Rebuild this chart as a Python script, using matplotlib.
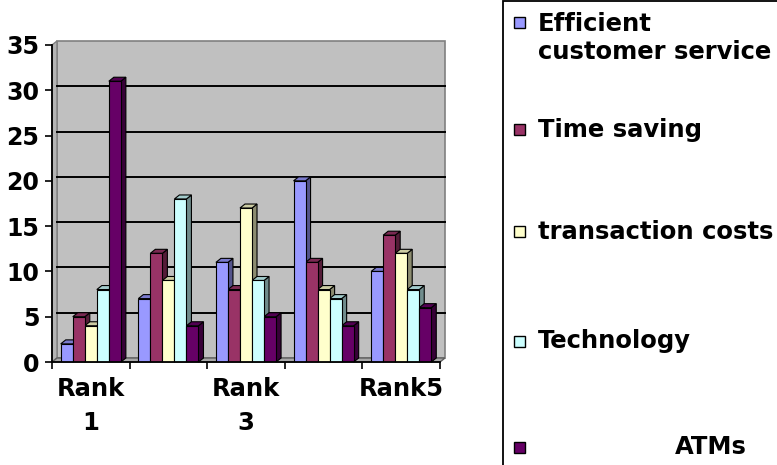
import numpy as np
import matplotlib
matplotlib.use("Agg")
import matplotlib.pyplot as plt
from matplotlib.patches import Polygon, Rectangle
from matplotlib.colors import to_rgb

categories = ["Rank 1", "Rank 2", "Rank 3", "Rank 4", "Rank5"]
series = ["Efficient\ncustomer service", "Time saving", "transaction costs",
          "Technology", "ATMs"]
efficient_service = [2, 7, 11, 20, 10]
time_saving = [5, 12, 8, 11, 14]
transaction_costs = [4, 9, 17, 8, 12]
technology = [8, 18, 9, 7, 8]
atms = [31, 4, 5, 4, 6]
values = [efficient_service, time_saving, transaction_costs, technology, atms]
colors = ["#9999FF", "#993366", "#FFFFCC", "#CCFFFF", "#660066"]
y_ticks = [0, 5, 10, 15, 20, 25, 30, 35]

W, H, DPI = 777, 465, 100
fig = plt.figure(figsize=(W / DPI, H / DPI), dpi=DPI)
fig.patch.set_facecolor("white")

ax_l, ax_b, ax_w, ax_h = 52, 103, 388, 317
ax = fig.add_axes([ax_l / W, ax_b / H, ax_w / W, ax_h / H])
ax.patch.set_visible(False)

n_cat = len(categories)
xmin, xmax = -0.5, n_cat - 0.5
ymin, ymax = 0, 35
ax.set_xlim(xmin, xmax)
ax.set_ylim(ymin, ymax)

# depth of the pseudo-3D box, in pixels, converted to data units
dpx, dpy = 5, 4
ddx = dpx / ax_w * (xmax - xmin)
ddy = dpy / ax_h * (ymax - ymin)

# back wall
ax.add_patch(Polygon([(xmin + ddx, ymin + ddy), (xmax + ddx, ymin + ddy),
                      (xmax + ddx, ymax + ddy), (xmin + ddx, ymax + ddy)],
                     closed=True, facecolor="#C0C0C0", edgecolor="#808080",
                     lw=1.2, zorder=0, clip_on=False))
# left wall
ax.add_patch(Polygon([(xmin, ymin), (xmin + ddx, ymin + ddy),
                      (xmin + ddx, ymax + ddy), (xmin, ymax)],
                     closed=True, facecolor="#B4B4B4", edgecolor="#808080",
                     lw=1.0, zorder=0.5, clip_on=False))
# floor
ax.add_patch(Polygon([(xmin, ymin), (xmax, ymin), (xmax + ddx, ymin + ddy),
                      (xmin + ddx, ymin + ddy)],
                     closed=True, facecolor="#A8A8A8", edgecolor="#606060",
                     lw=1.0, zorder=0.5, clip_on=False))
# gridlines on the back wall
for t in y_ticks[1:-1]:
    ax.plot([xmin + ddx, xmax + ddx], [t + ddy, t + ddy], color="black",
            lw=1.4, zorder=0.8, clip_on=False)

# bars
n_ser = len(series)
bw = 0.155
x = np.arange(n_cat)
for j, (vals, c) in enumerate(zip(values, colors)):
    base = np.array(to_rgb(c))
    side = tuple(base * 0.55)
    top = tuple(np.clip(base * 0.8, 0, 1))
    xs = x + (j - (n_ser - 1) / 2) * bw
    for xc, v in zip(xs, vals):
        x0, x1 = xc - bw / 2, xc + bw / 2
        ax.add_patch(Polygon([(x1, 0), (x1 + ddx, ddy), (x1 + ddx, v + ddy),
                              (x1, v)], closed=True, facecolor=side,
                             edgecolor="black", lw=0.8, zorder=1 + j * 0.01,
                             clip_on=False))
        ax.add_patch(Polygon([(x0, v), (x1, v), (x1 + ddx, v + ddy),
                              (x0 + ddx, v + ddy)], closed=True, facecolor=top,
                             edgecolor="black", lw=0.8, zorder=1 + j * 0.01,
                             clip_on=False))
    ax.bar(xs, vals, width=bw, color=c, edgecolor="black", lw=0.8, zorder=2)

# axes
for s in ["top", "right"]:
    ax.spines[s].set_visible(False)
for s in ["left", "bottom"]:
    ax.spines[s].set_linewidth(1.3)
    ax.spines[s].set_zorder(3)

ax.set_yticks(y_ticks)
ax.set_yticklabels([str(t) for t in y_ticks])
ax.tick_params(axis="y", direction="out", length=5, width=1.2, pad=4,
               labelsize=17)
for lab in ax.get_yticklabels():
    lab.set_fontweight("bold")

ax.set_xticks(x)
ax.set_xticklabels([c.replace(" ", "\n") if i % 2 == 0 else ""
                    for i, c in enumerate(categories)])
ax.tick_params(axis="x", which="major", length=0, pad=11, labelsize=17.5)
ax.set_xticks(np.arange(n_cat + 1) - 0.5, minor=True)
ax.tick_params(axis="x", which="minor", direction="out", length=5, width=1.2)
for lab in ax.get_xticklabels():
    lab.set_fontweight("bold")
    lab.set_linespacing(1.5)

# legend box
fig.add_artist(Rectangle((503 / W, -0.05), 0.5, (H - 1) / H + 0.05,
                         transform=fig.transFigure, facecolor="white",
                         edgecolor="black", lw=1.3, zorder=0))
legend_y = [38, 130, 232, 341, 447]
marker_y = [23, 130, 232, 341, 447]
legend_x = [538, 538, 538, 538, 675]
msz = 11
for lab, c, ty, my, tx in zip(series, colors, legend_y, marker_y, legend_x):
    fig.add_artist(Rectangle((514 / W, (H - my - msz / 2) / H), msz / W,
                             msz / H, transform=fig.transFigure,
                             facecolor=c, edgecolor="black", lw=1.0, zorder=2))
    fig.text(tx / W, (H - ty) / H, lab, fontsize=17.5, fontweight="bold",
             ha="left", va="center", linespacing=1.22, zorder=3)

fig.savefig("out.png", dpi=DPI)
